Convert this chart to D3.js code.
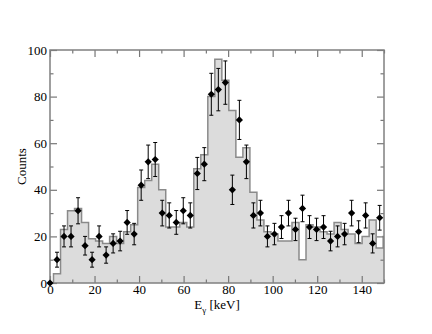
<!DOCTYPE html>
<html>
<head>
<meta charset="utf-8">
<script src="https://cdn.jsdelivr.net/npm/d3@7"></script>
<style>
  body { margin: 0; background: #fff; }
  svg text { font-family: "Liberation Serif", "Times New Roman", Times, serif; fill: #000; }
</style>
</head>
<body>
<div id="chart"></div>
<script>
// energy bin centres (keV)
var energies = [0, 3.15, 6.3, 9.45, 12.6, 15.75, 18.9, 22.05, 25.2, 28.35, 31.5, 34.65,
  37.8, 40.95, 44.1, 47.25, 50.4, 53.55, 56.7, 59.85, 63, 66.15, 69.3, 72.45,
  75.6, 78.75, 81.9, 85.05, 88.2, 91.35, 94.5, 97.65, 100.8, 103.95, 107.1, 110.25,
  113.4, 116.55, 119.7, 122.85, 126, 129.15, 132.3, 135.45, 138.6, 141.75, 144.9, 148.05];

// measured points
var counts = [0, 10, 20, 20, 31, 16, 10, 20, 12, 17, 18, 26,
  21, 42, 52, 53, 30, 29, 26, 31, 29, 47, 51, 81,
  83, 86, 40, 70, 52, 29, 30, 20, 21, 24, 30, 23,
  32, 24, 23, 24, 18, 20, 21, 30, 22, 29, 17, 28];

// error bar half-heights
var errors = [0, 3.2, 4.5, 4.5, 5.6, 4, 3.2, 4.5, 3.5, 4.1, 4.2, 5.1,
  4.6, 6.5, 7.2, 7.3, 5.5, 5.4, 5.1, 5.6, 5.4, 6.9, 7.1, 9,
  9.1, 9.3, 6.3, 8.4, 7.2, 5.4, 5.5, 4.5, 4.6, 4.9, 5.5, 4.8,
  5.7, 4.9, 4.8, 4.9, 4.2, 4.5, 4.6, 5.5, 4.7, 5.4, 4.1, 5.3];

// simulated histogram (same bins, one extra past the axis end)
var histE = energies.concat([151.2]);
var histCounts = [0, 4, 23, 31, 32, 26, 19, 18, 17, 20, 17, 22,
  25, 41, 44, 51, 40, 24, 24, 26, 24, 49, 55, 80,
  96, 87, 74, 54, 58, 39, 27, 22, 21, 18, 18, 26,
  10, 25, 24, 22, 21, 26, 23, 21, 17, 20, 27, 15, 20];

var xMajor = [0, 20, 40, 60, 80, 100, 120, 140];
var xMinor = [10, 30, 50, 70, 90, 110, 130, 150];
var yMajor = [0, 20, 40, 60, 80, 100];
var yMinor = [10, 30, 50, 70, 90];

var svgWidth = 432, svgHeight = 334;
var margin = { top: 50, right: 48, bottom: 51, left: 50 };
var width = svgWidth - margin.left - margin.right;
var height = svgHeight - margin.top - margin.bottom;

var svg = d3.select("#chart").append("svg")
  .attr("width", svgWidth)
  .attr("height", svgHeight);

var g = svg.append("g")
  .attr("transform", `translate(${margin.left},${margin.top})`);

var x = d3.scaleLinear().domain([0, 150]).range([0, width]);
var y = d3.scaleLinear().domain([0, 100]).range([height, 0]);

g.append("clipPath").attr("id", "plotclip")
  .append("rect").attr("width", width).attr("height", height);

// histogram (step area)
var hist = histE.map((e, i) => ({ e: e, c: histCounts[i] }));
var area = d3.area().curve(d3.curveStep)
  .x(d => x(d.e)).y0(y(0)).y1(d => y(d.c));
var line = d3.line().curve(d3.curveStep)
  .x(d => x(d.e)).y(d => y(d.c));

var hg = g.append("g").attr("clip-path", "url(#plotclip)");
hg.append("path").datum(hist).attr("d", area).attr("fill", "#dcdcdc");
hg.append("path").datum(hist).attr("d", line)
  .attr("fill", "none").attr("stroke", "#8a8a8a").attr("stroke-width", 1.5);

// axes: ticks point inward on all four sides
var tickCol = "#777";
function styleAxis(sel) {
  sel.attr("font-family", null).attr("font-size", null);
  sel.select(".domain").remove();
  sel.selectAll("line").attr("stroke", tickCol).attr("stroke-width", 1.2);
  sel.selectAll("text").style("font-size", "13px");
}

g.append("g").attr("transform", `translate(0,${height})`)
  .call(d3.axisBottom(x).tickValues(xMajor).tickSize(-7).tickPadding(2).tickFormat(d3.format("d")))
  .call(styleAxis);
g.append("g").attr("transform", `translate(0,${height})`)
  .call(d3.axisBottom(x).tickValues(xMinor).tickSize(-3.5).tickFormat(""))
  .call(styleAxis);
g.append("g")
  .call(d3.axisTop(x).tickValues(xMajor).tickSize(-7).tickFormat(""))
  .call(styleAxis);
g.append("g")
  .call(d3.axisTop(x).tickValues(xMinor).tickSize(-3.5).tickFormat(""))
  .call(styleAxis);

g.append("g")
  .call(d3.axisLeft(y).tickValues(yMajor).tickSize(-7).tickPadding(3).tickFormat(d3.format("d")))
  .call(styleAxis);
g.append("g")
  .call(d3.axisLeft(y).tickValues(yMinor).tickSize(-3.5).tickFormat(""))
  .call(styleAxis);
g.append("g").attr("transform", `translate(${width},0)`)
  .call(d3.axisRight(y).tickValues(yMajor).tickSize(-7).tickFormat(""))
  .call(styleAxis);
g.append("g").attr("transform", `translate(${width},0)`)
  .call(d3.axisRight(y).tickValues(yMinor).tickSize(-3.5).tickFormat(""))
  .call(styleAxis);

// frame
g.append("rect")
  .attr("width", width).attr("height", height)
  .attr("fill", "none").attr("stroke", "#808080").attr("stroke-width", 1.5);

// data points with error bars
var pts = energies.map((e, i) => ({ e: e, c: counts[i], err: errors[i] }));
var eb = g.append("g").selectAll("g").data(pts.filter(d => d.err > 0)).enter().append("g");
eb.append("line")
  .attr("x1", d => x(d.e)).attr("x2", d => x(d.e))
  .attr("y1", d => y(d.c - d.err)).attr("y2", d => y(d.c + d.err))
  .attr("stroke", "#000").attr("stroke-width", 1);
eb.append("line")
  .attr("x1", d => x(d.e) - 2).attr("x2", d => x(d.e) + 2)
  .attr("y1", d => y(d.c + d.err)).attr("y2", d => y(d.c + d.err))
  .attr("stroke", "#000").attr("stroke-width", 1);
eb.append("line")
  .attr("x1", d => x(d.e) - 2).attr("x2", d => x(d.e) + 2)
  .attr("y1", d => y(d.c - d.err)).attr("y2", d => y(d.c - d.err))
  .attr("stroke", "#000").attr("stroke-width", 1);

g.append("g").selectAll("path").data(pts).enter().append("path")
  .attr("d", d3.symbol(d3.symbolSquare, 26))
  .attr("transform", d => `translate(${x(d.e)},${y(d.c)}) rotate(45)`)
  .attr("fill", "#000");

// axis titles
svg.append("text")
  .attr("transform", `translate(26,${margin.top + height / 2}) rotate(-90)`)
  .attr("text-anchor", "middle")
  .style("font-size", "13px")
  .text("Counts");

var xt = svg.append("text")
  .attr("x", margin.left + width / 2)
  .attr("y", 309)
  .attr("text-anchor", "middle")
  .style("font-size", "13px");
xt.append("tspan").text("E");
xt.append("tspan").attr("dy", 4).style("font-size", "9px").text("γ");
xt.append("tspan").attr("dy", -4).text(" [keV]");
</script>
</body>
</html>
